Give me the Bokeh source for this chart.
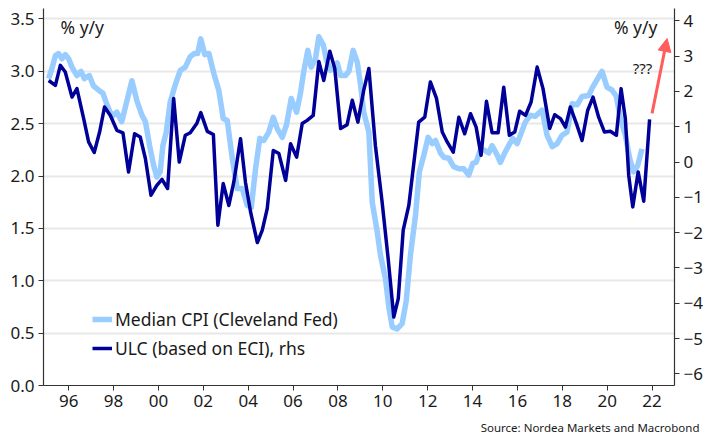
from bokeh.plotting import figure
from bokeh.models import (Range1d, LinearAxis, FixedTicker, PrintfTickFormatter,
                          CustomJSTickFormatter, Legend, LegendItem, Label, Arrow,
                          NormalHead, Title)
from bokeh.embed import file_html
from bokeh.resources import INLINE

# Median CPI (Cleveland Fed), % y/y, left axis
cpi_dates = [1995.11, 1995.26, 1995.41, 1995.55, 1995.70, 1995.85, 1996.00, 1996.15, 1996.37, 1996.55,
             1996.70, 1996.92, 1997.11, 1997.34, 1997.53, 1997.71, 1997.93, 1998.15, 1998.37, 1998.60,
             1998.82, 1999.04, 1999.27, 1999.42, 1999.61, 1999.79, 1999.93, 2000.08, 2000.20, 2000.35,
             2000.53, 2000.75, 2000.98, 2001.20, 2001.42, 2001.60, 2001.75, 2001.89, 2002.07, 2002.25,
             2002.47, 2002.69, 2002.89, 2003.07, 2003.29, 2003.51, 2003.74, 2003.96, 2004.14, 2004.33,
             2004.52, 2004.70, 2004.92, 2005.12, 2005.30, 2005.52, 2005.71, 2005.92, 2006.16, 2006.33,
             2006.48, 2006.66, 2006.81, 2007.00, 2007.15, 2007.35, 2007.49, 2007.67, 2007.82, 2007.97,
             2008.12, 2008.34, 2008.49, 2008.68, 2008.86, 2009.01, 2009.15, 2009.38, 2009.53, 2009.75,
             2009.90, 2010.12, 2010.27, 2010.42, 2010.64, 2010.86, 2011.04, 2011.23, 2011.46, 2011.63,
             2011.83, 2012.02, 2012.20, 2012.35, 2012.57, 2012.72, 2012.94, 2013.16, 2013.39, 2013.61,
             2013.83, 2014.01, 2014.16, 2014.35, 2014.50, 2014.72, 2014.87, 2015.10, 2015.24, 2015.43,
             2015.61, 2015.79, 2015.99, 2016.13, 2016.36, 2016.58, 2016.80, 2017.10, 2017.32, 2017.55,
             2017.77, 2017.99, 2018.21, 2018.44, 2018.66, 2018.88, 2019.18, 2019.33, 2019.55, 2019.77,
             2019.99, 2020.22, 2020.41, 2020.59, 2020.81, 2021.00, 2021.18, 2021.36, 2021.55]
cpi_values = [2.93, 3.03, 3.15, 3.17, 3.12, 3.16, 3.12, 3.04, 2.96, 3.00,
              2.93, 2.96, 2.86, 2.82, 2.79, 2.68, 2.57, 2.61, 2.52, 2.72,
              2.91, 2.72, 2.58, 2.52, 2.29, 2.10, 1.99, 2.04, 2.29, 2.42,
              2.71, 2.87, 3.01, 3.04, 3.14, 3.17, 3.17, 3.31, 3.16, 3.17,
              2.98, 2.82, 2.55, 2.53, 2.17, 1.88, 1.88, 1.72, 1.70, 2.07,
              2.36, 2.34, 2.42, 2.56, 2.45, 2.37, 2.49, 2.74, 2.61, 2.79,
              3.00, 3.20, 3.04, 3.12, 3.33, 3.25, 3.11, 3.01, 3.03, 3.08,
              2.96, 2.96, 3.00, 3.20, 3.09, 2.87, 2.61, 2.42, 1.75, 1.47,
              1.24, 1.02, 0.75, 0.56, 0.54, 0.59, 0.80, 1.24, 1.63, 2.04,
              2.20, 2.37, 2.31, 2.34, 2.22, 2.18, 2.17, 2.09, 2.07, 2.07,
              2.01, 2.12, 2.13, 2.25, 2.25, 2.22, 2.29, 2.20, 2.13, 2.22,
              2.29, 2.36, 2.31, 2.39, 2.52, 2.58, 2.57, 2.63, 2.39, 2.28,
              2.31, 2.39, 2.42, 2.69, 2.68, 2.76, 2.77, 2.84, 2.92, 3.00,
              2.85, 2.82, 2.76, 2.55, 2.39, 2.17, 2.04, 2.10, 2.26]

# ULC (based on ECI), % y/y, right axis
ulc_dates = [1995.11, 1995.41, 1995.63, 1995.85, 1996.15, 1996.37, 1996.67, 1996.89, 1997.14, 1997.38,
             1997.60, 1997.86, 1998.15, 1998.42, 1998.67, 1998.94, 1999.19, 1999.42, 1999.67, 1999.93,
             2000.16, 2000.41, 2000.68, 2000.93, 2001.20, 2001.42, 2001.71, 2001.89, 2002.18, 2002.45,
             2002.65, 2002.89, 2003.14, 2003.36, 2003.66, 2003.88, 2004.11, 2004.41, 2004.63, 2004.85,
             2005.12, 2005.37, 2005.67, 2005.89, 2006.16, 2006.41, 2006.63, 2006.90, 2007.15, 2007.37,
             2007.64, 2007.86, 2008.12, 2008.41, 2008.64, 2008.89, 2009.15, 2009.38, 2009.67, 2009.97,
             2010.24, 2010.49, 2010.69, 2010.91, 2011.16, 2011.38, 2011.60, 2011.87, 2012.12, 2012.39,
             2012.65, 2012.87, 2013.14, 2013.39, 2013.65, 2013.91, 2014.16, 2014.38, 2014.62, 2014.87,
             2015.14, 2015.39, 2015.64, 2015.88, 2016.10, 2016.36, 2016.61, 2016.88, 2017.14, 2017.44,
             2017.66, 2017.92, 2018.14, 2018.36, 2018.63, 2018.88, 2019.13, 2019.37, 2019.62, 2019.88,
             2020.14, 2020.41, 2020.62, 2020.81, 2020.96, 2021.14, 2021.38, 2021.63, 2021.89]
ulc_values = [2.31, 2.17, 2.74, 2.55, 1.84, 2.08, 1.23, 0.57, 0.27, 0.85,
              1.56, 1.32, 0.90, 0.83, -0.28, 0.80, 0.71, 0.10, -0.94, -0.66,
              -0.49, -0.75, 1.80, 0.00, 0.76, 0.83, 1.09, 1.40, 0.87, 0.78,
              -1.79, -0.61, -1.23, -0.57, 0.66, -0.57, -1.42, -2.28, -1.93, -1.32,
              0.33, 0.24, -0.52, 0.52, 0.14, 1.09, 1.18, 1.32, 2.85, 2.31,
              3.14, 2.65, 0.95, 1.06, 1.75, 1.13, 2.03, 2.65, 0.47, -1.13,
              -2.74, -4.39, -3.87, -1.93, -1.23, -0.05, 1.13, 1.27, 2.27, 1.81,
              0.85, 0.57, 0.28, 1.27, 0.80, 1.37, 0.99, 0.19, 1.72, 0.83,
              0.83, 2.12, 0.76, 0.85, 1.44, 1.32, 1.70, 2.69, 2.08, 0.95,
              1.34, 1.23, 0.99, 1.56, 1.09, 0.61, 1.46, 1.84, 1.27, 0.85,
              0.87, 0.76, 2.08, 1.23, -0.38, -1.27, -0.28, -1.11, 1.21]

x_ticks = list(range(1996, 2023, 2))
left_ticks = [0.0, 0.5, 1.0, 1.5, 2.0, 2.5, 3.0, 3.5]
right_ticks = [-6, -5, -4, -3, -2, -1, 0, 1, 2, 3, 4]

LIGHT = "#99ccff"
DARK = "#000099"
RED = "#ff5c5c"
FONT = "Noto Sans"
AXC = "#333333"

p = figure(width=710, height=448, output_backend="svg", toolbar_location=None,
           x_range=Range1d(1994.88, 2023.0), y_range=Range1d(0, 3.6),
           min_border_left=43, min_border_right=36, min_border_top=8, min_border_bottom=63)
p.outline_line_color = None
p.extra_y_ranges = {"right": Range1d(-6.33, 4.35)}

r1 = p.line(cpi_dates, cpi_values, line_color=LIGHT, line_width=5.5, line_join="round")
r2 = p.line(ulc_dates, ulc_values, line_color=DARK, line_width=3.5, line_join="round",
            y_range_name="right")

# axes
p.xaxis.ticker = FixedTicker(ticks=x_ticks)
p.xaxis.formatter = CustomJSTickFormatter(code="var y = Math.round(tick) % 100; return (y < 10 ? '0' : '') + y;")
p.yaxis.ticker = FixedTicker(ticks=left_ticks)
p.yaxis.formatter = PrintfTickFormatter(format="%.1f")
raxis = LinearAxis(y_range_name="right", ticker=FixedTicker(ticks=right_ticks))
p.add_layout(raxis, "right")

for ax in [p.xaxis[0], p.yaxis[0], raxis]:
    ax.axis_line_color = AXC
    ax.axis_line_width = 1.2
    ax.major_tick_line_color = AXC
    ax.major_tick_out = 5
    ax.major_tick_in = 0
    ax.minor_tick_line_color = None
    ax.major_label_text_font = FONT
    ax.major_label_text_font_size = "17px"
    ax.major_label_text_color = "#1a1a1a"
    ax.major_label_standoff = 4

p.xgrid.visible = False
p.ygrid.ticker = FixedTicker(ticks=left_ticks)
p.ygrid.grid_line_color = "#e8e8e8"
p.ygrid.grid_line_width = 2

legend = Legend(items=[LegendItem(label="Median CPI (Cleveland Fed)", renderers=[r1]),
                       LegendItem(label="ULC (based on ECI), rhs", renderers=[r2])],
                location=(49, 25), padding=0, margin=0, spacing=5,
                glyph_width=20, glyph_height=20, label_height=20, label_standoff=3,
                label_text_font=FONT, label_text_font_size="17.5px", label_text_color="#1a1a1a",
                border_line_color=None, background_fill_alpha=0)
p.add_layout(legend, "center")

p.add_layout(Label(x=1995.64, y=3.42, text="% y/y", text_font=FONT, text_font_size="17.5px",
                   text_baseline="middle", text_align="left", text_color="#1a1a1a"))
p.add_layout(Label(x=2022.24, y=3.42, text="% y/y", text_font=FONT, text_font_size="17.5px",
                   text_baseline="middle", text_align="right", text_color="#1a1a1a"))
p.add_layout(Label(x=2022.01, y=3.03, text="???", text_font=FONT, text_font_size="15px",
                   text_baseline="middle", text_align="right", text_color="#1a1a1a"))
p.add_layout(Arrow(end=NormalHead(size=13, fill_color=RED, line_color=RED),
                   x_start=2022.0, y_start=1.38, x_end=2022.67, y_end=3.5,
                   y_range_name="right", line_color=RED, line_width=3))

p.add_layout(Title(text="Source: Nordea Markets and Macrobond", align="right",
                   offset=-25, standoff=16,
                   text_font=FONT, text_font_size="11.5px", text_font_style="normal",
                   text_color="#1a1a1a"), "below")

open("out.html", "w").write(file_html(p, INLINE))
